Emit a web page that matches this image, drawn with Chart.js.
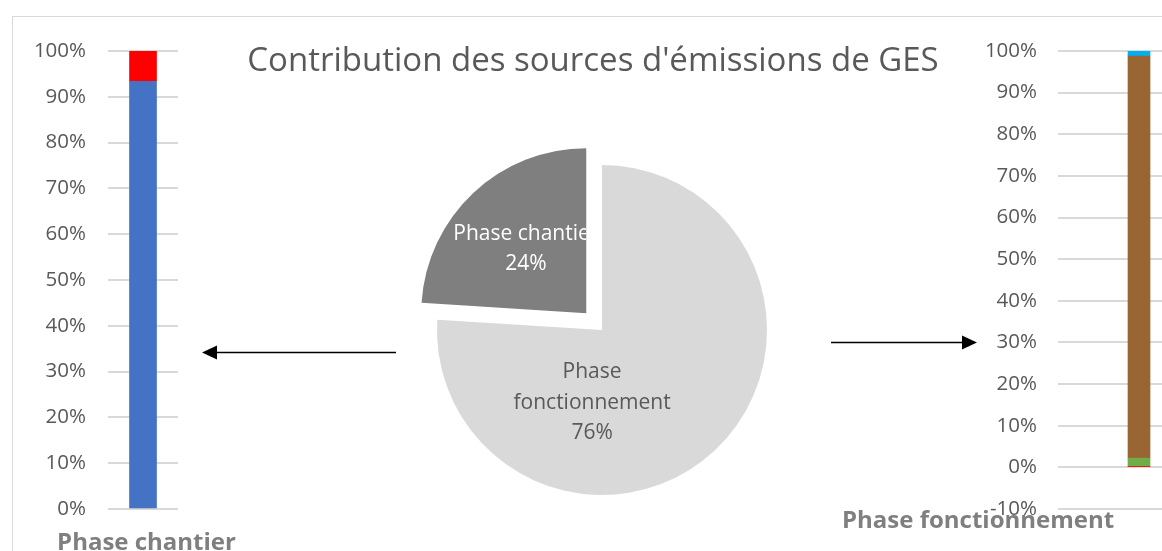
<!DOCTYPE html>
<html>
<head>
<meta charset="utf-8">
<script src="https://cdn.jsdelivr.net/npm/chart.js@4.4.1/dist/chart.umd.min.js"></script>
<style>
  html, body { margin: 0; padding: 0; background: #fff; }
  body { width: 1162px; height: 551px; overflow: hidden; position: relative; font-family: "Open Sans", sans-serif; }
  .frame { position: absolute; left: 12px; top: 16px; width: 1200px; height: 600px; border: 1px solid #d9d9d9; }
  .box { position: absolute; }
  #arrows { position: absolute; left: 0; top: 0; }
</style>
</head>
<body>
<div class="frame"></div>
<div class="box" style="left:0;top:0;width:1186px;height:600px"><canvas id="pie"></canvas></div>
<div class="box" style="left:0;top:0;width:293px;height:570px"><canvas id="left"></canvas></div>
<div class="box" style="left:840px;top:0;width:380px;height:560px"><canvas id="right"></canvas></div>
<svg id="arrows" width="1162" height="551">
  <line x1="396" y1="352.5" x2="214" y2="352.5" stroke="#000" stroke-width="1.3"/>
  <polygon points="202,352.5 217,345.5 217,359.5" fill="#000"/>
  <line x1="831" y1="342.5" x2="966" y2="342.5" stroke="#000" stroke-width="1.3"/>
  <polygon points="977,342.5 962,335.5 962,349.5" fill="#000"/>
</svg>
<script>
// pie: share of each phase (light slice first, from 12 o'clock)
const pieTitle = "Contribution des sources d'émissions de GES";
const phases = ['Phase fonctionnement', 'Phase chantier'];
const phaseShare = [76, 24];

// left bar: breakdown of the construction phase (%)
const chantierCategory = ['Phase chantier'];
const chantierBlue = [93.4];
const chantierRed = [6.6];

// right bar: breakdown of the operation phase (%)
const fonctCategory = ['Phase fonctionnement'];
const fonctRed = [0.2];
const fonctGreen = [2.0];
const fonctBrown = [96.6];
const fonctCyan = [1.2];

const grey = '#595959';
const axisTitleGrey = '#7f7f7f';
const gridGrey = '#d9d9d9';
Chart.defaults.font.family = '"Open Sans", sans-serif';
Chart.defaults.animation = false;

// data labels inside the pie slices, clipped to their slice like Excel does
const labelLines = [['Phase', 'fonctionnement', phaseShare[0] + '%'], ['Phase chantier', phaseShare[1] + '%']];
const labelColors = [grey, '#ffffff'];
const labelAnchor = [{ dx: -0.06, dy: 0.44 }, { along: 0.535 }];
const pieLabels = {
  id: 'pieLabels',
  afterDatasetsDraw(chart) {
    const ctx = chart.ctx;
    chart.getDatasetMeta(0).data.forEach((arc, i) => {
      const p = arc.getProps(['x', 'y', 'startAngle', 'endAngle', 'outerRadius']);
      const mid = (p.startAngle + p.endAngle) / 2;
      const off = (arc.options.offset || 0) / 4; // ArcElement moves by offset/4
      const cx = p.x + Math.cos(mid) * off;
      const cy = p.y + Math.sin(mid) * off;
      const a = labelAnchor[i];
      let lx, ly;
      if (a.along !== undefined) {
        lx = cx + Math.cos(mid) * p.outerRadius * a.along;
        ly = cy + Math.sin(mid) * p.outerRadius * a.along;
      } else {
        lx = cx + a.dx * p.outerRadius;
        ly = cy + a.dy * p.outerRadius;
      }
      ctx.save();
      ctx.beginPath();
      ctx.moveTo(cx, cy);
      ctx.arc(cx, cy, p.outerRadius, p.startAngle, p.endAngle);
      ctx.closePath();
      ctx.clip();
      ctx.fillStyle = labelColors[i];
      ctx.font = '21px "Open Sans", sans-serif';
      ctx.textAlign = 'center';
      ctx.textBaseline = 'middle';
      const lines = labelLines[i];
      const lh = 30.5;
      lines.forEach((t, k) => ctx.fillText(t, lx, ly + (k - (lines.length - 1) / 2) * lh));
      ctx.restore();
    });
  }
};

// the pie sits a little right of the title's centre in the original
const shiftPie = {
  id: 'shiftPie',
  afterLayout(chart) {
    chart.chartArea.left += 9;
    chart.chartArea.right += 9;
  }
};

new Chart(document.getElementById('pie'), {
  type: 'pie',
  data: {
    labels: phases,
    datasets: [{
      data: phaseShare,
      backgroundColor: ['#d9d9d9', '#7f7f7f'],
      borderWidth: 0,
      offset: [0, 92]
    }]
  },
  options: {
    responsive: true,
    maintainAspectRatio: false,
    radius: 165,
    layout: { padding: { left: 0, right: 0, top: 0, bottom: 21.6 } },
    plugins: {
      legend: { display: false },
      tooltip: { enabled: false },
      title: {
        display: true,
        text: pieTitle,
        color: grey,
        font: { size: 33, weight: 'normal' },
        padding: { top: 42, bottom: 0 }
      }
    }
  },
  plugins: [shiftPie, pieLabels]
});

const pctTick = v => Math.round(v) + '%';

new Chart(document.getElementById('left'), {
  type: 'bar',
  data: {
    labels: chantierCategory,
    datasets: [
      { data: chantierBlue, backgroundColor: '#4472c4', barThickness: 27 },
      { data: chantierRed, backgroundColor: '#ff0000', barThickness: 27 }
    ]
  },
  options: {
    responsive: true,
    maintainAspectRatio: false,
    layout: { padding: { left: 0, right: 0, top: 51, bottom: 0 } },
    plugins: {
      legend: { display: false },
      tooltip: { enabled: false },
      title: {
        display: true,
        text: chantierCategory[0],
        position: 'bottom',
        color: axisTitleGrey,
        font: { size: 24, weight: 'bold', lineHeight: 1 },
        padding: { top: 22, bottom: 15 }
      }
    },
    scales: {
      x: { stacked: true, display: false },
      y: {
        stacked: true,
        min: 0, max: 100,
        ticks: { stepSize: 10, color: grey, padding: 22, font: { size: 20.5 }, callback: pctTick },
        grid: { color: gridGrey, lineWidth: 2, drawTicks: false },
        border: { display: false },
        afterFit: s => { s.width = 108; }
      },
      // empty right-hand spacer so the plot area ends where the gridlines end
      spacer: {
        position: 'right',
        grid: { display: false },
        ticks: { display: false },
        border: { display: false },
        afterFit: s => { s.width = 115; }
      }
    }
  }
});

new Chart(document.getElementById('right'), {
  type: 'bar',
  data: {
    labels: fonctCategory,
    datasets: [
      { data: fonctRed, backgroundColor: '#ff0000', barThickness: 22 },
      { data: fonctGreen, backgroundColor: '#70ad47', barThickness: 22 },
      { data: fonctBrown, backgroundColor: '#996633', barThickness: 22 },
      { data: fonctCyan, backgroundColor: '#00b0f0', barThickness: 22 }
    ]
  },
  options: {
    responsive: true,
    maintainAspectRatio: false,
    layout: { padding: { left: 2, right: 0, top: 51, bottom: 0 } },
    plugins: {
      legend: { display: false },
      tooltip: { enabled: false },
      title: {
        display: true,
        text: fonctCategory[0],
        position: 'bottom',
        align: 'start',
        color: axisTitleGrey,
        font: { size: 24, weight: 'bold', lineHeight: 1 },
        padding: { top: 0, bottom: 27 }
      }
    },
    scales: {
      x: { stacked: true, display: false },
      y: {
        stacked: true,
        min: -10, max: 100,
        ticks: { stepSize: 10, color: grey, padding: 21, font: { size: 20.5 }, callback: pctTick },
        grid: { color: gridGrey, lineWidth: 2, drawTicks: false },
        border: { display: false },
        afterFit: s => { s.width = 216; }
      }
    }
  }
});
</script>
</body>
</html>
